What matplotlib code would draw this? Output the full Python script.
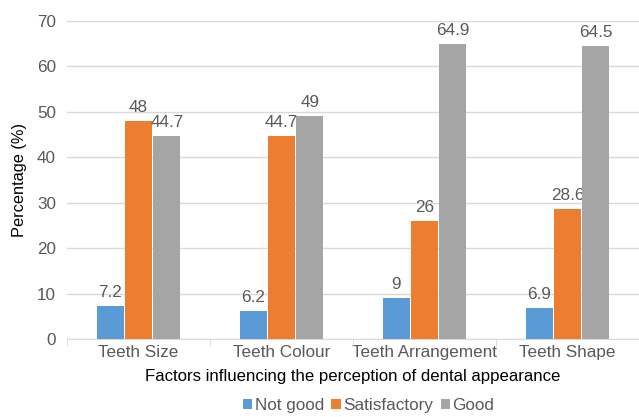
import matplotlib
matplotlib.use("Agg")
import matplotlib.pyplot as plt
import numpy as np

categories = ["Teeth Size", "Teeth Colour", "Teeth Arrangement", "Teeth Shape"]
not_good = [7.2, 6.2, 9, 6.9]
satisfactory = [48, 44.7, 26, 28.6]
good = [44.7, 49, 64.9, 64.5]
series_names = ["Not good", "Satisfactory", "Good"]
colors = ["#5B9BD5", "#ED7D31", "#A5A5A5"]

plt.rcParams["font.family"] = ["Liberation Sans", "DejaVu Sans"]
text_color = "#595959"
fs = 12.3

fig = plt.figure(figsize=(6.39, 4.17), dpi=100)
ax = fig.add_axes([0.105, 0.187, 0.895, 0.763])

x = np.arange(len(categories))
w = 0.19
gap = 0.008
for i, (vals, name, c) in enumerate(zip([not_good, satisfactory, good], series_names, colors)):
    pos = x + (i - 1) * (w + gap)
    bars = ax.bar(pos, vals, width=w, color=c, label=name, zorder=3)
    for b, v in zip(bars, vals):
        ax.text(b.get_x() + b.get_width() / 2, v + 1.3, f"{v:g}",
                ha="center", va="bottom", fontsize=fs, color=text_color)

ax.set_xlim(-0.5, len(categories) - 0.5)
ax.set_ylim(0, 70)
ax.set_yticks(range(0, 71, 10))
ax.yaxis.grid(True, color="#D9D9D9", linewidth=1, zorder=0)
ax.set_axisbelow(True)

ax.set_xticks(x)
ax.set_xticklabels(categories)
ax.set_xticks(np.arange(-0.5, len(categories), 1), minor=True)
ax.tick_params(axis="x", which="major", length=0, pad=4, labelsize=fs, labelcolor=text_color)
ax.tick_params(axis="x", which="minor", length=5, color="#D9D9D9", direction="out")
ax.tick_params(axis="y", length=0, pad=8, labelsize=fs, labelcolor=text_color)

for s in ["top", "right", "left"]:
    ax.spines[s].set_visible(False)
ax.spines["bottom"].set_color("#D9D9D9")

ax.set_ylabel("Percentage (%)", fontsize=11.8, color="#000000", labelpad=7)
ax.set_xlabel("Factors influencing the perception of dental appearance",
              fontsize=12.1, color="#000000", labelpad=7)

leg = ax.legend(loc="upper center", bbox_to_anchor=(0.527, -0.185), ncol=3, frameon=False,
                fontsize=fs, handlelength=0.55, handleheight=0.55, handletextpad=0.12,
                columnspacing=0.45, borderaxespad=0, borderpad=0)
for t in leg.get_texts():
    t.set_color(text_color)

fig.savefig("out.png", dpi=100)
